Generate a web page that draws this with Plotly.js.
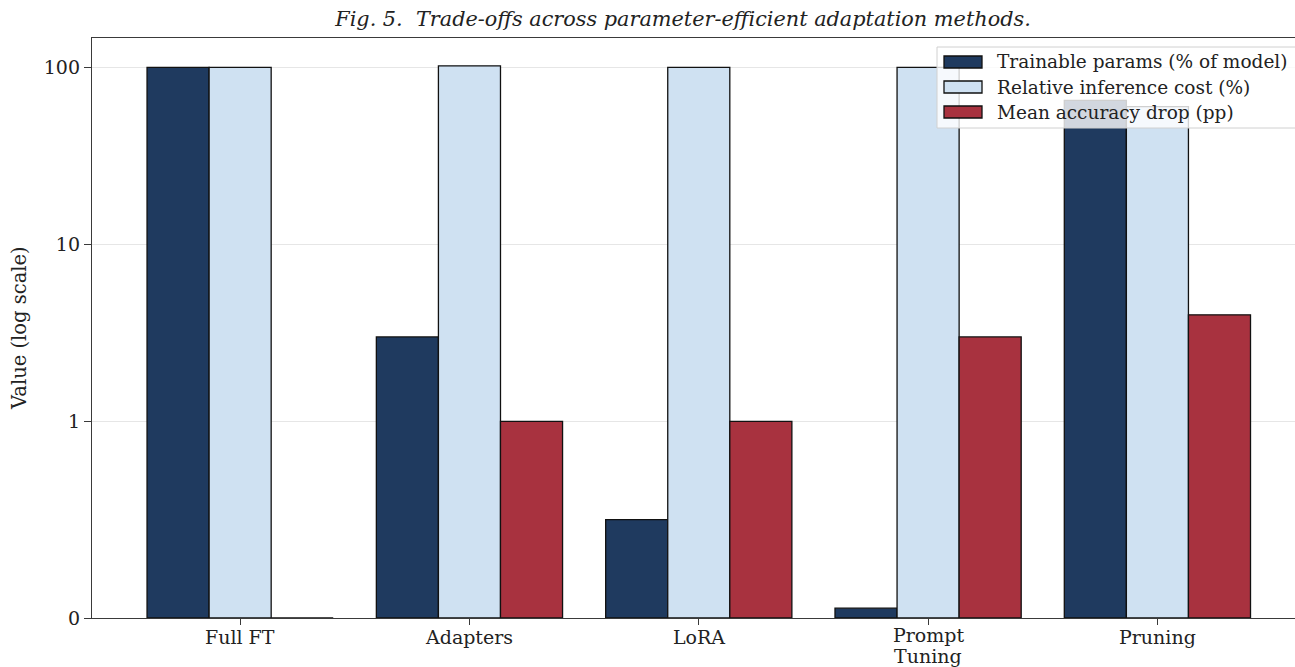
<!DOCTYPE html>
<html>
<head>
<meta charset="utf-8">
<script src="https://cdn.plot.ly/plotly-3.0.1.min.js"></script>
<style>html,body{margin:0;padding:0;background:#fff;}#chart{width:1295px;height:667px;}</style>
</head>
<body>
<div id="chart"></div>
<script>
const categories = ['Full FT', 'Adapters', 'LoRA', 'Prompt Tuning', 'Pruning'];
const tickLabels = ['Full FT', 'Adapters', 'LoRA', 'Prompt<br>Tuning', 'Pruning'];
const trainableParams = [100, 3, 0.5, 0.05, 65];
const inferenceCost = [100, 102, 100, 100, 60];
const accuracyDrop = [0, 1, 1, 3, 4];
const seriesNames = ['Trainable params (% of model)', 'Relative inference cost (%)', 'Mean accuracy drop (pp)'];
const seriesColors = ['#1f3a5f', '#cfe1f2', '#a8323f'];
const yTickValues = [0, 1, 10, 100];
const yTickLabels = ['0', '1', '10', '100'];

// symlog transform (linthresh = 1, linscale = 1, base 10), as in matplotlib
const LINTHRESH = 1, LINSCALE_ADJ = 1 / (1 - 1 / 10);
function symlog(v) {
  const a = Math.abs(v);
  if (a <= LINTHRESH) return v * LINSCALE_ADJ;
  return Math.sign(v) * LINTHRESH * (LINSCALE_ADJ + Math.log10(a / LINTHRESH));
}

const seriesValues = [trainableParams, inferenceCost, accuracyDrop];
const FONT = '"DejaVu Serif", serif';

const traces = seriesValues.map((vals, i) => ({
  type: 'bar',
  name: seriesNames[i],
  x: categories,
  y: vals.map(symlog),
  customdata: vals,
  hovertemplate: '%{x}: %{customdata}<extra>' + seriesNames[i] + '</extra>',
  marker: {color: seriesColors[i], line: {color: '#111111', width: 1.3}},
  showlegend: false
}));

// plot area in pixels
const W = 1295, H = 667, L = 92, R = 0, T = 38, B = 49;
const pw = W - L - R, ph = H - T - B;
const px = x => (x - L) / pw;
const py = y => (H - B - y) / ph;

const shapes = [];
const annotations = [];
// custom matplotlib-style legend
shapes.push({type: 'rect', xref: 'paper', yref: 'paper', layer: 'above',
  x0: px(937), x1: px(1302), y0: py(128), y1: py(47),
  fillcolor: 'rgba(255,255,255,0.8)', line: {color: '#d0d0d0', width: 1}});
const rowY = [62, 87, 112];
seriesNames.forEach((n, i) => {
  shapes.push({type: 'rect', xref: 'paper', yref: 'paper', layer: 'above',
    x0: px(944), x1: px(982), y0: py(rowY[i] + 6), y1: py(rowY[i] - 6),
    fillcolor: seriesColors[i], line: {color: '#111111', width: 1.3}});
  annotations.push({xref: 'paper', yref: 'paper', x: px(995), y: py(rowY[i]),
    xanchor: 'left', yanchor: 'middle', showarrow: false, text: n,
    font: {family: FONT, size: 18.5, color: '#222'}});
});
// x tick labels (matplotlib-like tight line spacing for wrapped labels)
categories.forEach((c, i) => {
  const lines = tickLabels[i].split('<br>');
  lines.forEach((line, k) => {
    annotations.push({xref: 'x', yref: 'paper', x: c,
      y: py(637 - (lines.length - 1) * 2 + k * 21),
      xanchor: 'center', yanchor: 'middle', showarrow: false, text: line,
      borderpad: 0,
      font: {family: FONT, size: 19, color: '#222'}});
  });
});
// y-axis title
annotations.push({xref: 'paper', yref: 'paper', x: px(19), y: 0.5, textangle: -90,
  xanchor: 'center', yanchor: 'middle', showarrow: false, text: 'Value (log scale)',
  font: {family: FONT, size: 19.5, color: '#222'}});

const layout = {
  width: W, height: H,
  margin: {l: L, r: R, t: T, b: B, pad: 0},
  paper_bgcolor: '#ffffff', plot_bgcolor: '#ffffff',
  title: {text: 'Fig. 5.  Trade-offs across parameter-efficient adaptation methods.',
    x: 683 / W, xref: 'container', xanchor: 'center', y: 1 - 19 / H, yref: 'container', yanchor: 'middle',
    font: {family: FONT, size: 20.8, style: 'italic', color: '#222'}},
  barmode: 'group', bargap: 0.188, bargroupgap: 0,
  xaxis: {
    type: 'category', range: [-0.646, 4.6],
    tickmode: 'array', tickvals: categories, ticktext: categories.map(() => ''),
    showline: true, linecolor: '#3a3a3a', linewidth: 1.3, mirror: true,
    ticks: 'outside', ticklen: 6, tickwidth: 1.3, tickcolor: '#3a3a3a',
    showgrid: false, zeroline: false,
    tickfont: {family: FONT, size: 19, color: '#222'}
  },
  yaxis: {
    range: [0, 3.277],
    tickmode: 'array', tickvals: yTickValues.map(symlog), ticktext: yTickLabels,
    showline: true, linecolor: '#3a3a3a', linewidth: 1.3, mirror: false,
    ticks: 'outside', ticklen: 7, tickwidth: 1.3, tickcolor: '#3a3a3a',
    showgrid: true, gridcolor: '#e6e6e6', gridwidth: 1, zeroline: false,
    tickfont: {family: FONT, size: 19, color: '#222'}
  },
  shapes: shapes,
  annotations: annotations
};

Plotly.newPlot('chart', traces, layout, {displayModeBar: false, staticPlot: false});
</script>
</body>
</html>
